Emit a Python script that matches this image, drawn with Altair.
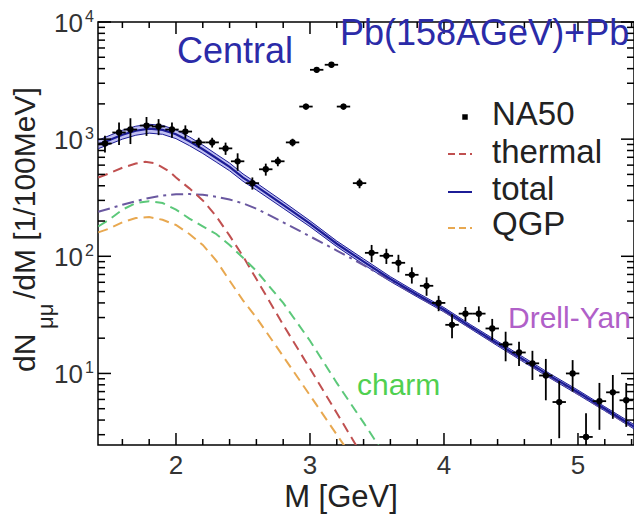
import altair as alt
import pandas as pd

# ---------------- data ----------------
na_x = [1.47, 1.575, 1.66, 1.78, 1.87, 1.97, 2.07, 2.17, 2.27, 2.37, 2.46, 2.57, 2.67, 2.76,
        2.87, 2.97, 3.05, 3.16, 3.25, 3.37, 3.46, 3.57, 3.66, 3.76, 3.87, 3.96, 4.06, 4.16,
        4.26, 4.36, 4.46, 4.56, 4.66, 4.76, 4.86, 4.96, 5.06, 5.16, 5.26, 5.36, 5.46]
na_y = [918, 1140, 1208, 1306, 1282, 1208, 1161, 938, 938, 834, 647, 421, 553, 647,
        938, 1897, 3908, 4315, 1897, 421, 107, 101, 88, 69.5, 56, 40, 26, 32.4,
        32.4, 24.2, 17.7, 15.1, 12.2, 9.6, 5.7, 10, 2.87, 5.8, 6.9, 5.9, 4.0]
na_err = [150, 250, 300, 240, 200, 180, 150, 90, 90, 100, 110, 50, 65, 60,
          70, 110, 200, 230, 110, 40, 18, 15, 15, 11, 10, 6, 6, 4.5,
          5, 5, 5, 3.5, 3.4, 3.7, 2.9, 3, 1.7, 2.5, 2.8, 2.4, 1.5]

tot_x = [1.42, 1.5, 1.6, 1.7, 1.8, 1.9, 2.0, 2.1, 2.2, 2.3, 2.4, 2.5, 2.6, 2.8, 3.0,
         3.2, 3.4, 3.6, 3.8, 4.0, 4.2, 4.4, 4.6, 4.8, 5.0, 5.2, 5.42]
tot_mid = [900, 980, 1090, 1180, 1230, 1200, 1100, 960, 820, 690, 580, 470, 395, 275, 190,
           128, 90, 64, 47, 35, 25, 18, 13, 9.4, 6.9, 5.0, 3.5]
tot_hi = [980, 1070, 1190, 1290, 1340, 1310, 1200, 1045, 890, 745, 625, 505, 423, 293, 201,
          135, 95, 67, 49, 36.5, 26, 18.8, 13.6, 9.8, 7.2, 5.2, 3.65]
tot_lo = [830, 900, 1000, 1080, 1125, 1100, 1010, 880, 755, 637, 537, 437, 368, 257, 179,
          121, 85, 61, 45, 33.5, 24, 17.2, 12.4, 9.0, 6.6, 4.8, 3.35]

thermal_x = [1.42, 1.5, 1.6, 1.7, 1.77, 1.85, 1.95, 2.0, 2.1, 2.2, 2.3, 2.4, 2.5, 2.6, 2.8, 3.0, 3.2, 3.4]
thermal_y = [470, 510, 570, 620, 640, 620, 530, 470, 380, 300, 220, 150, 100, 64, 26, 11, 4.6, 1.9]

charm_x = [1.42, 1.5, 1.6, 1.7, 1.8, 1.9, 2.0, 2.1, 2.2, 2.3, 2.4, 2.5, 2.6, 2.8, 3.0, 3.2, 3.4, 3.6]
charm_y = [180, 205, 250, 285, 295, 285, 250, 210, 180, 155, 125, 97, 75, 40, 19, 8.3, 3.8, 1.7]

qgp_x = [1.42, 1.5, 1.6, 1.7, 1.8, 1.9, 2.0, 2.1, 2.2, 2.3, 2.4, 2.5, 2.6, 2.8, 3.0, 3.2, 3.4]
qgp_y = [160, 172, 195, 212, 216, 205, 185, 155, 125, 92, 62, 42, 30, 14, 6.5, 3.0, 1.4]

dy_x = [1.42, 1.5, 1.6, 1.7, 1.8, 1.9, 2.0, 2.1, 2.2, 2.3, 2.4, 2.5, 2.6, 2.8, 3.0, 3.2, 3.4,
        3.6, 3.8, 4.0, 4.2, 4.4, 4.6, 4.8, 5.0, 5.2, 5.42]
dy_y = [240, 255, 275, 295, 315, 330, 338, 340, 335, 322, 305, 283, 255, 195, 148, 112, 84,
        62, 46, 34, 24.5, 17.6, 12.7, 9.2, 6.7, 4.85, 3.4]

y_major = [10, 100, 1000, 10000]
y_base = ["10", "10", "10", "10"]
y_exp = ["1", "2", "3", "4"]
y_minor = [3, 4, 5, 6, 7, 8, 9, 20, 30, 40, 50, 60, 70, 80, 90, 200, 300, 400, 500, 600, 700,
           800, 900, 2000, 3000, 4000, 5000, 6000, 7000, 8000, 9000]
x_major = [2, 3, 4, 5]
x_labels = ["2", "3", "4", "5"]
x_minor = [1.6, 1.8, 2.2, 2.4, 2.6, 2.8, 3.2, 3.4, 3.6, 3.8, 4.2, 4.4, 4.6, 4.8, 5.2, 5.4]

# ---------------- styling ----------------
W, H = 536, 423
FONT = "Liberation Sans"
C_TOT = "#1c1c96"
C_TH = "#c05050"
C_CH = "#5cc87a"
C_QGP = "#e8a850"
C_DY = "#6a58a0"
C_TITLE = "#2b2ba8"
C_LAB = "#333333"

xs = alt.Scale(domain=[1.418, 5.418], nice=False, zero=False)
ys = alt.Scale(type="log", domain=[2.45, 10000], nice=False)

na = pd.DataFrame({"x": na_x, "y": na_y, "err": na_err})
na["lo"] = na["y"] - na["err"]
na["hi"] = na["y"] + na["err"]
na["xl"] = na["x"] - 0.05
na["xh"] = na["x"] + 0.05

tot = pd.DataFrame({"x": tot_x, "mid": tot_mid, "hi": tot_hi, "lo": tot_lo})


def X(f):
    return alt.X(f, type="quantitative", scale=xs, axis=None)


def Y(f):
    return alt.Y(f, type="quantitative", scale=ys, axis=None)


band = alt.Chart(tot).mark_area(color="#8080e6", opacity=0.5, clip=True).encode(
    x=X("x"), y=Y("lo"), y2="hi")
band_hi = alt.Chart(tot).mark_line(color=C_TOT, strokeWidth=1, clip=True).encode(x=X("x"), y=Y("hi"))
band_lo = alt.Chart(tot).mark_line(color=C_TOT, strokeWidth=1, clip=True).encode(x=X("x"), y=Y("lo"))
tot_line = alt.Chart(tot).mark_line(color=C_TOT, strokeWidth=2.2, clip=True).encode(x=X("x"), y=Y("mid"))


def curve(xv, yv, color, dash):
    df = pd.DataFrame({"x": xv, "y": yv})
    return alt.Chart(df).mark_line(color=color, strokeWidth=2, strokeDash=dash, clip=True).encode(
        x=X("x"), y=Y("y"))


dy_line = curve(dy_x, dy_y, C_DY, [12, 5, 3, 5])
th_line = curve(thermal_x, thermal_y, C_TH, [10, 6])
ch_line = curve(charm_x, charm_y, C_CH, [10, 6])
q_line = curve(qgp_x, qgp_y, C_QGP, [10, 6])

err_v = alt.Chart(na).mark_rule(color="black", strokeWidth=1.8, clip=True).encode(
    x=X("x"), y=Y("lo"), y2="hi")
err_h = alt.Chart(na).mark_rule(color="black", strokeWidth=1.8, clip=True).encode(
    x=X("xl"), x2="xh", y=Y("y"))
pts = alt.Chart(na).mark_circle(color="black", size=40, opacity=1, clip=True).encode(
    x=X("x"), y=Y("y"))

# ---- inward ticks on all four sides ----
ymaj = pd.DataFrame({"v": y_major, "b": y_base, "e": y_exp})
ymin = pd.DataFrame({"v": y_minor})
xmaj = pd.DataFrame({"v": x_major, "t": x_labels})
xmin = pd.DataFrame({"v": x_minor})
TK = dict(color="black", strokeWidth=1.5)
ticks = [
    alt.Chart(ymaj).mark_rule(**TK).encode(y=Y("v"), x=alt.value(0), x2=alt.value(13)),
    alt.Chart(ymin).mark_rule(**TK).encode(y=Y("v"), x=alt.value(0), x2=alt.value(7)),
    alt.Chart(ymaj).mark_rule(**TK).encode(y=Y("v"), x=alt.value(W), x2=alt.value(W - 13)),
    alt.Chart(ymin).mark_rule(**TK).encode(y=Y("v"), x=alt.value(W), x2=alt.value(W - 7)),
    alt.Chart(xmaj).mark_rule(**TK).encode(x=X("v"), y=alt.value(H), y2=alt.value(H - 12)),
    alt.Chart(xmin).mark_rule(**TK).encode(x=X("v"), y=alt.value(H), y2=alt.value(H - 6)),
    alt.Chart(xmaj).mark_rule(**TK).encode(x=X("v"), y=alt.value(0), y2=alt.value(12)),
    alt.Chart(xmin).mark_rule(**TK).encode(x=X("v"), y=alt.value(0), y2=alt.value(6)),
]

# ---- tick labels (10 with superscript exponent) ----
ylab = alt.Chart(ymaj).mark_text(
    align="right", baseline="middle", dy=2, fontSize=26, font=FONT, color=C_LAB
).encode(x=alt.value(-15), y=Y("v"), text="b:N")
exps = alt.Chart(ymaj).mark_text(
    align="left", baseline="middle", dy=-5, fontSize=16, font=FONT, color=C_LAB
).encode(x=alt.value(-13), y=Y("v"), text="e:N")
xlab = alt.Chart(xmaj).mark_text(
    align="center", baseline="top", fontSize=26, font=FONT, color=C_LAB
).encode(x=X("v"), y=alt.value(H + 8), text="t:N")

one = alt.Data(values=[{}])


def label(txt, px, py, size, color="#222", angle=0, align="left", baseline="alphabetic"):
    kw = dict(text=txt, fontSize=size, font=FONT, color=color, align=align, baseline=baseline)
    if angle:
        kw["angle"] = angle
    return alt.Chart(one).mark_text(**kw).encode(x=alt.value(px), y=alt.value(py))


def legend_rule(px1, px2, py, color, dash=None, width=2):
    kw = dict(color=color, strokeWidth=width)
    if dash:
        kw["strokeDash"] = dash
    return alt.Chart(one).mark_rule(**kw).encode(x=alt.value(px1), x2=alt.value(px2), y=alt.value(py))


texts = [
    label("Central", 79, 41, 36, C_TITLE),
    label("Pb(158AGeV)+Pb", 242, 23, 36, C_TITLE),
    label("Drell-Yan", 410, 306, 30, "#b060c8"),
    label("charm", 259, 373, 30, "#50d050"),
    # legend
    alt.Chart(one).mark_square(color="black", size=30, opacity=1).encode(x=alt.value(367), y=alt.value(95)),
    label("NA50", 394, 103, 33),
    legend_rule(350, 374, 132, C_TH, [7, 4]),
    label("thermal", 394, 141, 33),
    legend_rule(350, 374, 170, C_TOT, None, 2),
    label("total", 394, 178, 33),
    legend_rule(350, 374, 206, C_QGP, [7, 4]),
    label("QGP", 394, 213, 33),
    # axis titles
    label("M [GeV]", 243, 485, 31, "#222", align="center"),
    label("dN", -63, 350, 30, "#222", angle=270),
    label("\u03bc\u03bc", -45, 307, 22, "#222", angle=270),
    label("/dM [1/100MeV]", -63, 277, 30, "#222", angle=270),
]

chart = alt.layer(
    band, band_hi, band_lo, dy_line, th_line, ch_line, q_line, tot_line,
    err_v, err_h, pts, *ticks, ylab, exps, xlab, *texts
).properties(
    width=W, height=H,
    padding={"left": 90, "top": 14, "right": 0, "bottom": 69},
    autosize=alt.AutoSizeParams(type="none"),
    background="white",
).configure_view(stroke="black", strokeWidth=1.5)

chart.save("out.html", embed_options={"renderer": "svg", "actions": False})
